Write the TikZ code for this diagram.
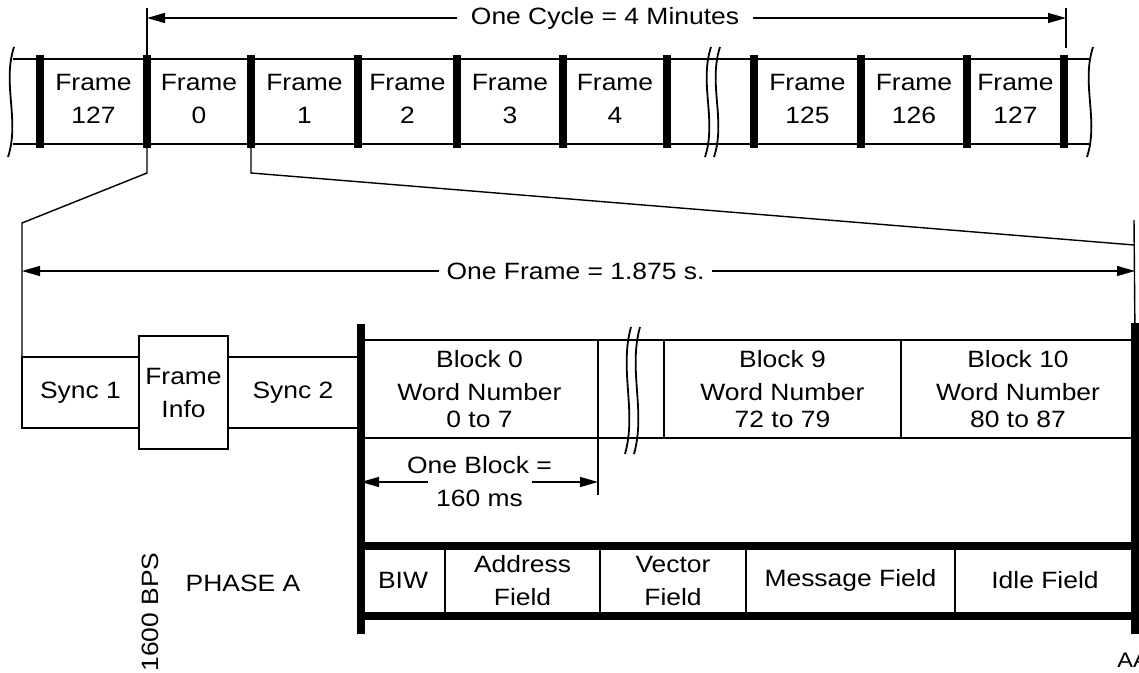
\documentclass[tikz,border=0pt]{standalone}
\usepackage{fontspec}
\setmainfont{Liberation Sans}[FakeStretch=1.12]
\usetikzlibrary{arrows.meta, positioning}

\newcommand{\figfont}{\fontsize{11.8}{16.5}\selectfont}

\tikzset{
  thinline/.style={line width=1pt},
  barline/.style={line width=4pt},
  extline/.style={line width=0.7pt},
  dimline/.style={line width=0.7pt, -{Triangle[length=9pt,width=5pt]}},
  lbl/.style={font=\figfont, align=center, inner sep=1pt},
  cell/.style={draw, line width=1pt, outer sep=0pt, inner sep=0pt,
    font=\figfont, align=center},
  wavy/.pic={\draw[line width=0.9pt] (3,-#1) .. controls (-9,-#1/3) and (9,#1/3) .. (-3,#1);}
}

\begin{document}
\begin{tikzpicture}[x=0.5pt, y=-0.5pt]
  \useasboundingbox (0,0) rectangle (1139,673);

  % Frame strip
  \draw[thinline] (13,59) -- (1089,59);
  \draw[thinline] (13,144) -- (1089,144);
  \foreach \x in {40,147,251,358,457,563,667,754,861,967,1064}
    \draw[barline] (\x,55) -- (\x,148);
  \foreach \x/\n [count=\i] in {93.5/127, 199/0, 304.5/1, 407.5/2, 510/3,
      615/4, 807.5/125, 914/126, 1015.5/127}
    \node[lbl] (frame\i) at (\x,99) {Frame\\\n};
  \pic at (11,102) {wavy=55};
  \pic at (708,102) {wavy=55};
  \pic at (717,102) {wavy=55};
  \pic at (1090,102) {wavy=55};
  \coordinate (bar0) at (147,148);
  \coordinate (bar1) at (251,148);

  % One cycle
  \coordinate (cycL) at (147,18);
  \coordinate (cycR) at (1066,18);
  \draw[extline] (147,8) -- (147,55);
  \draw[extline] (1066,8) -- (1066,48);
  \node[lbl, inner sep=7pt] (cyc) at (605,18) {One Cycle = 4 Minutes};
  \draw[dimline] (cyc) -- (cycL);
  \draw[dimline] (cyc) -- (cycR);

  % Frame layout
  \node[cell, minimum width=58.5pt, minimum height=35.5pt] (sync1) at (80.5,392.5) {Sync 1};
  \node[cell, minimum width=44.5pt, minimum height=56pt, right=0pt of sync1] (finfo) {Frame\\Info};
  \node[cell, minimum width=65pt, minimum height=35.5pt, right=0pt of finfo] (sync2) {Sync 2};

  \node[cell, minimum width=118.5pt, minimum height=49pt] (blk0) at (479.5,389)
    {Block 0\\Word Number\\[-3pt]0 to 7};
  \node[cell, minimum width=33pt, minimum height=49pt, right=0pt of blk0] (gap) {};
  \node[cell, minimum width=118.5pt, minimum height=49pt, right=0pt of gap] (blk9)
    {Block 9\\Word Number\\[-3pt]72 to 79};
  \node[cell, minimum width=117pt, minimum height=49pt, right=0pt of blk9] (blk10)
    {Block 10\\Word Number\\[-3pt]80 to 87};
  \pic at (628,390.5) {wavy=63.5};
  \pic at (637,390.5) {wavy=63.5};

  % Zoom lines
  \draw[extline] (bar0) -- ++(0,25) -- (22,223) -- (sync1.north west);
  \draw[extline] (bar1) -- ++(0,25) -- (1134,245);
  \draw[extline] (1134,220) -- (blk10.north east);

  % One frame
  \node[lbl, inner sep=3.5pt] (frm) at (575.5,271) {One Frame = 1.875 s.};
  \draw[dimline] (frm) -- (frm -| sync1.west);
  \draw[dimline] (frm) -- (frm -| blk10.east);

  % One block
  \node[lbl] (blk) at (479.5,482) {One Block =\\160 ms};
  \draw[extline] (blk0.south east) -- ++(0,57);
  \draw[dimline] ([xshift=-26pt]blk.center) -- (blk.center -| blk0.west);
  \draw[dimline] ([xshift=26pt]blk.center) -- (blk.center -| blk0.east);

  % Phase A fields
  \node[cell, minimum width=42pt, minimum height=35pt] (biw) at (403,580.5) {BIW};
  \node[cell, minimum width=77.5pt, minimum height=35pt, right=0pt of biw] (addr) {Address\\Field};
  \node[cell, minimum width=73pt, minimum height=35pt, right=0pt of addr] (vec) {Vector\\Field};
  \node[cell, minimum width=104.5pt, minimum height=35pt, right=0pt of vec] (msg) {Message Field};
  \node[cell, minimum width=90pt, minimum height=35pt, right=0pt of msg] (idle) {Idle Field};
  \draw[barline] (biw.north west) -- (idle.north east);
  \draw[barline] (biw.south west) -- (idle.south east);

  % Thick edges
  \draw[barline] ([yshift=8pt]blk0.north west) -- ([yshift=-9.25pt]biw.south west);
  \draw[barline] ([yshift=8.5pt]blk10.north east) -- ([yshift=-9pt]idle.south east);

  % Side labels
  \node[lbl, rotate=90] (bps) at (150,612) {1600 BPS};
  \node[lbl] (phase) at (243,583) {PHASE A};
  \node[lbl, font=\fontsize{10.5}{12}\selectfont, anchor=west] (tag) at (1115,660) {AA};
\end{tikzpicture}
\end{document}
